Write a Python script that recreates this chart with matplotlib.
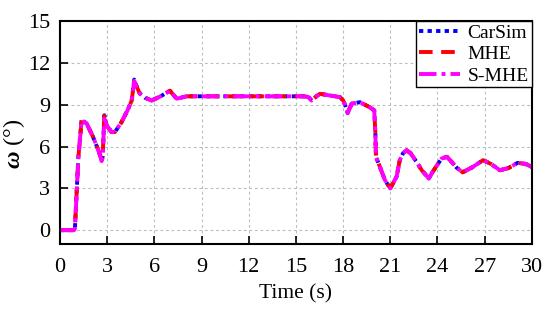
import matplotlib
matplotlib.use('Agg')
import matplotlib.pyplot as plt

# time (s) and sideslip-like angle omega (deg)
time_s = [0.0, 0.9, 0.95, 1.17, 1.38, 1.7, 2.1, 2.44, 2.65, 2.72, 2.82, 2.97, 3.28, 3.5,
          3.92, 4.3, 4.56, 4.72, 4.85, 5.08, 5.4, 5.83, 6.4, 6.99, 7.42, 7.7, 8.05, 9.0,
          12.0, 15.47, 15.8, 16.0, 16.3, 16.53, 17.16, 17.8, 18.01, 18.15, 18.29, 18.55,
          19.07, 19.67, 19.98, 20.05, 20.09, 20.34, 20.66, 21.0, 21.4, 21.6, 21.8, 22.04,
          22.3, 22.67, 23.0, 23.45, 23.7, 24.26, 24.6, 24.9, 25.2, 25.6, 26.2, 26.9,
          27.4, 27.97, 28.5, 29.1, 29.6, 30.0]
carsim = [0.0, 0.0, 0.1, 5.26, 7.93, 7.64, 6.7, 5.74, 5.02, 5.3, 8.24, 7.52, 7.04, 7.04,
          7.76, 8.6, 9.3, 10.8, 10.4, 9.8, 9.5, 9.3, 9.6, 10.0, 9.43, 9.5, 9.6, 9.6,
          9.6, 9.6, 9.55, 9.3, 9.6, 9.78, 9.66, 9.54, 9.3, 8.9, 8.4, 9.07,
          9.18, 8.83, 8.59, 7.0, 5.26, 4.54, 3.59, 3.0, 3.83, 5.0, 5.5, 5.74,
          5.5, 4.9, 4.3, 3.71, 4.19, 5.14, 5.26, 4.9, 4.5, 4.15, 4.5, 5.02,
          4.75, 4.3, 4.45, 4.83, 4.75, 4.54]
mhe = [0.0, 0.0, 0.1, 5.2, 7.9, 7.64, 6.7, 5.74, 5.1, 5.4, 8.2, 7.5, 7.04, 7.04,
       7.76, 8.6, 9.3, 10.65, 10.35, 9.8, 9.5, 9.3, 9.6, 10.0, 9.43, 9.5, 9.6, 9.6,
       9.6, 9.6, 9.55, 9.3, 9.6, 9.78, 9.66, 9.54, 9.3, 8.9, 8.45, 9.07,
       9.18, 8.83, 8.59, 7.0, 5.26, 4.54, 3.59, 3.0, 3.83, 5.0, 5.5, 5.74,
       5.5, 4.9, 4.3, 3.71, 4.19, 5.14, 5.26, 4.9, 4.5, 4.15, 4.5, 5.02,
       4.75, 4.3, 4.45, 4.83, 4.75, 4.54]
smhe = [0.0, 0.0, 0.1, 5.2, 7.9, 7.64, 6.7, 5.74, 4.95, 5.2, 8.2, 7.5, 7.04, 7.04,
        7.76, 8.6, 9.3, 10.7, 10.35, 9.8, 9.5, 9.3, 9.6, 10.0, 9.43, 9.5, 9.6, 9.6,
        9.6, 9.6, 9.55, 9.3, 9.6, 9.78, 9.66, 9.54, 9.3, 8.9, 8.4, 9.07,
        9.18, 8.83, 8.59, 7.0, 5.26, 4.54, 3.59, 3.0, 3.83, 5.0, 5.5, 5.74,
        5.5, 4.9, 4.3, 3.71, 4.19, 5.14, 5.26, 4.9, 4.5, 4.15, 4.5, 5.02,
        4.75, 4.3, 4.45, 4.83, 4.75, 4.54]

x_ticks = [0, 3, 6, 9, 12, 15, 18, 21, 24, 27, 30]
y_ticks = [0, 3, 6, 9, 12, 15]

plt.rcParams['font.family'] = ['Liberation Serif', 'DejaVu Serif']
plt.rcParams['mathtext.fontset'] = 'custom'
plt.rcParams['mathtext.it'] = 'Liberation Serif:italic:bold'
plt.rcParams['mathtext.rm'] = 'Liberation Serif'

fig = plt.figure(figsize=(5.5, 3.09), dpi=100)
ax = fig.add_axes([0.109, 0.21, 0.858, 0.722])

ax.plot(time_s, carsim, color='blue', linestyle=(0, (1.1, 1.1)), linewidth=2.8, label='CarSim')
ax.plot(time_s, mhe, color='red', linestyle=(0, (3.5, 2.2)), linewidth=2.8, label='MHE')
ax.plot(time_s, smhe, color='magenta', linestyle=(0, (4.5, 1.3, 1, 1.3)), linewidth=2.8, label='S-MHE')

ax.set_xlim(0, 30)
ax.set_ylim(-1, 15)
ax.set_xticks(x_ticks)
ax.set_yticks(y_ticks)
ax.grid(True, color='#bdbdbd', linestyle=(0, (2.5, 2.5)), linewidth=0.8)
ax.tick_params(direction='in', length=6, width=1.2, labelsize=16, pad=7)
ax.tick_params(axis='x', pad=10)
for sp in ax.spines.values():
    sp.set_linewidth(1.5)

ax.set_xlabel('Time (s)', fontsize=15.5, labelpad=5)
ax.set_ylabel(r'$\omega$ (°)', fontsize=17.5)
ax.yaxis.set_label_coords(-0.07, 0.45)

leg = ax.legend(loc='upper right', borderaxespad=0., fontsize=14, fancybox=False,
                framealpha=1, edgecolor='black', handlelength=2.1, handletextpad=0.4,
                labelspacing=0.2, borderpad=0.15)
leg.get_frame().set_linewidth(1.0)

fig.savefig('out.png', dpi=100)
